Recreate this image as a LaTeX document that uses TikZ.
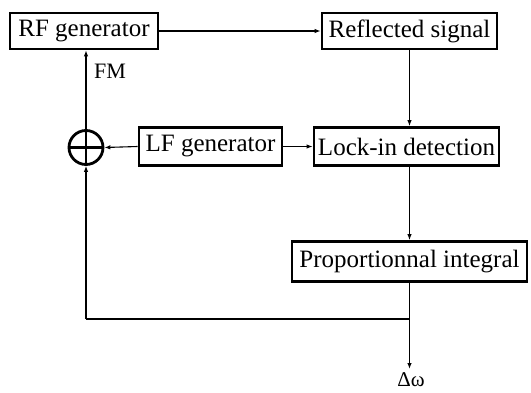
\documentclass[tikz,border=0pt]{standalone}
\usepackage{fontspec}
\setmainfont{Liberation Serif}
\usetikzlibrary{arrows.meta}
\begin{document}
\begin{tikzpicture}[x=1pt,y=-1pt,
  blockbox/.style={draw,line width=2.8pt,inner sep=0pt,font=\fontsize{25}{28}\selectfont,
    minimum height=36pt},
  sumnode/.style={circle,draw,line width=2.8pt,minimum size=34pt,inner sep=0pt,
    path picture={\draw[line width=2.8pt]
      (path picture bounding box.north) -- (path picture bounding box.south)
      (path picture bounding box.west) -- (path picture bounding box.east);}},
  conn/.style={line width=1.1pt,-{Latex[length=6pt,width=4.5pt]}},
  wire/.style={line width=1.1pt}]
\useasboundingbox (0,0) rectangle (531,392);

\node[blockbox,minimum width=148pt] (rf)   at (84,31)     {RF generator};
\node[blockbox,minimum width=175pt] (refl) at (409.5,31)  {Reflected signal};
\node[blockbox,minimum width=143pt,minimum height=38pt] (lf)   at (210.5,146.5) {LF generator};
\node[blockbox,minimum width=185pt,minimum height=38pt] (lock) at (406.5,146.5) {Lock-in detection};
\node[blockbox,minimum width=235pt,minimum height=40pt] (pi)   at (409.5,261.5) {Proportionnal integral};
\node[sumnode] (sum) at (86,147.5) {};

\coordinate (fb)  at (409.5,319);
\coordinate (out) at (409.5,369);
\coordinate (fbl) at (86,319);

\node[font=\fontsize{22}{24}\selectfont] (fm) at (110,71) {FM};
\node[font=\fontsize{21}{23}\selectfont,inner sep=0pt,anchor=base] (dw) at (411,386) {Δω};

\draw[conn] (rf.east) -- (refl.west);
\draw[conn] (refl.south) -- (refl.south |- lock.north);
\draw[conn] (lf.east) -- (lock.west);
\draw[conn] (lf.west) -- (sum.east);
\draw[conn] (sum.north) -- (sum.north |- rf.south);
\draw[conn] (lock.south -| pi.north) -- (pi.north);
\draw[conn] (pi.south) -- (out);
\draw[wire] (fb) -- (fbl);
\draw[conn] (fbl) -- (sum.south);
\end{tikzpicture}
\end{document}
